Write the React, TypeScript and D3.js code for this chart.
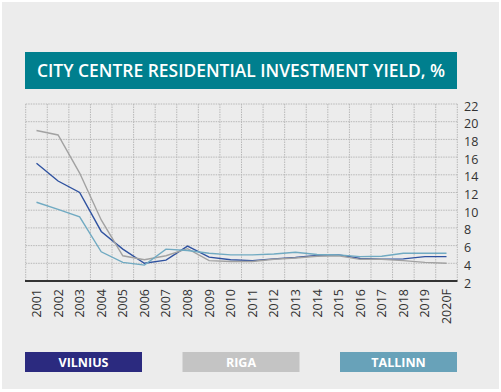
import * as d3 from "d3";
import React from "react";

const years = [
  "2001", "2002", "2003", "2004", "2005", "2006", "2007", "2008", "2009", "2010",
  "2011", "2012", "2013", "2014", "2015", "2016", "2017", "2018", "2019", "2020F",
];
const vilnius = [15.3, 13.3, 12.0, 7.6, 5.6, 4.0, 4.35, 5.95, 4.7, 4.4, 4.3, 4.5, 4.65, 4.9, 4.95, 4.55, 4.45, 4.5, 4.75, 4.75];
const riga = [19.0, 18.5, 14.2, 8.9, 4.85, 4.4, 4.85, 5.65, 4.3, 4.2, 4.2, 4.45, 4.6, 4.8, 4.85, 4.45, 4.45, 4.3, 4.1, 4.0];
const tallinn = [10.9, 10.1, 9.25, 5.3, 4.1, 3.8, 5.6, 5.45, 5.13, 4.95, 4.95, 5.05, 5.24, 5.0, 4.95, 4.75, 4.8, 5.13, 5.13, 5.13];
const yTicks = [2, 4, 6, 8, 10, 12, 14, 16, 18, 20, 22];

const series = [
  { name: "VILNIUS", values: vilnius, line: "#2f52a0", box: "#2b2a7f" },
  { name: "RIGA", values: riga, line: "#a2a2a2", box: "#c4c4c4" },
  { name: "TALLINN", values: tallinn, line: "#70aac2", box: "#68a2b9" },
];

const W = 501;
const H = 392;
const left = 25.7;
const right = 457.3;
const top = 104;
const bottom = 281;

export default function App() {
  const x = d3.scaleBand<string>().domain(years).range([left, right]);
  const y = d3.scaleLinear().domain([2, 22]).range([bottom, top]);
  const cx = (i: number) => (x(years[i]) as number) + x.bandwidth() / 2;
  const line = d3
    .line<number>()
    .x((d, i) => cx(i))
    .y((d) => y(d));

  const legendX = d3.scalePoint<string>().domain(series.map((s) => s.name)).range([83.5, 398.5]);
  const font = "'Open Sans', sans-serif";

  return (
    <svg
      width={W}
      height={H}
      style={{ position: "absolute", left: 0, top: 0 }}
      fontFamily={font}
    >
      <rect x={0} y={0} width={W} height={H} fill="#ffffff" />
      <rect x={2} y={2} width={497} height={387} fill="#ececec" />

      <rect x={25} y={52} width={432} height={37} fill="#007f8e" />
      <text
        x={37}
        y={77.3}
        fill="#ffffff"
        fontSize={18}
        fontWeight={600}
        textLength={408}
        lengthAdjust="spacingAndGlyphs"
      >
        CITY CENTRE RESIDENTIAL INVESTMENT YIELD, %
      </text>

      {/* grid */}
      {yTicks.slice(1).map((t) => (
        <line
          key={"h" + t}
          x1={left}
          x2={right}
          y1={y(t)}
          y2={y(t)}
          stroke="#b8b8b8"
          strokeWidth={1}
          strokeDasharray="1.5,1"
        />
      ))}
      {years.map((yr) => (
        <line
          key={"v" + yr}
          x1={x(yr)}
          x2={x(yr)}
          y1={top}
          y2={bottom}
          stroke="#b8b8b8"
          strokeWidth={1}
          strokeDasharray="1.5,1"
        />
      ))}
      <line x1={right} x2={right} y1={top} y2={bottom} stroke="#b8b8b8" strokeDasharray="1.5,1" />

      {yTicks.map((t) => (
        <text key={"yl" + t} x={464} y={y(t) + 6.5} fontSize={12.5} fill="#333">
          {t}
        </text>
      ))}

      {series.map((s) => (
        <path key={s.name} d={line(s.values) || ""} fill="none" stroke={s.line} strokeWidth={1.4} />
      ))}

      <line x1={25} x2={457.5} y1={bottom} y2={bottom} stroke="#333" strokeWidth={2} />

      {years.map((yr, i) => (
        <text
          key={"xl" + yr}
          transform={`translate(${cx(i) + 4.5},${289}) rotate(-90)`}
          textAnchor="end"
          fontSize={12.5}
          fill="#333"
        >
          {yr}
        </text>
      ))}

      {series.map((s) => (
        <g key={"lg" + s.name}>
          <rect x={(legendX(s.name) as number) - 58.5} y={352} width={117} height={20} fill={s.box} />
          <text
            x={legendX(s.name)}
            y={366.5}
            textAnchor="middle"
            fill="#ffffff"
            fontSize={12.5}
            fontWeight={700}
          >
            {s.name}
          </text>
        </g>
      ))}
    </svg>
  );
}
